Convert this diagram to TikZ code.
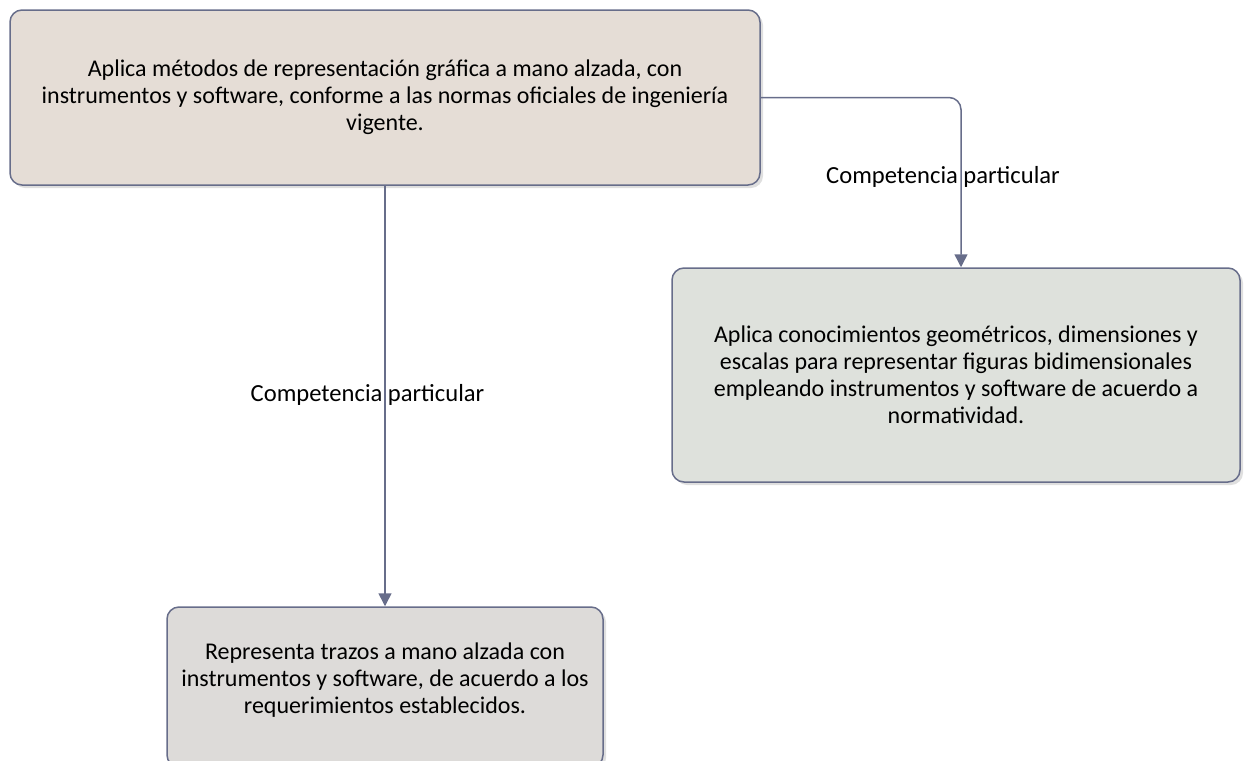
\documentclass[tikz,border=0pt]{standalone}
\usepackage{fontspec}
\setmainfont{Carlito}
\usetikzlibrary{arrows.meta,shadows}

\definecolor{lineblue}{HTML}{676D8A}
\definecolor{topfill}{HTML}{E5DDD6}
\definecolor{rightfill}{HTML}{DEE1DC}
\definecolor{lowfill}{HTML}{DDDBD9}

\tikzset{
  compbox/.style={draw=lineblue, line width=0.75pt, rounded corners=6pt,
    align=center, font=\fontsize{12}{13.5}\selectfont,
    drop shadow={opacity=0.25, shadow xshift=1.5pt, shadow yshift=-1.5pt}},
  link/.style={draw=lineblue, line width=0.75pt,
    -{Triangle[width=6.5pt,length=6.5pt]}},
  linklabel/.style={font=\fontsize{12.3}{14}\selectfont}
}

\begin{document}
\begin{tikzpicture}[x=0.5pt,y=-0.5pt]
  \useasboundingbox (0,0) rectangle (1244,761);

  % Boxes
  \node[compbox, fill=topfill, minimum width=375pt, minimum height=87.5pt]
    (general) at (385,97.5)
    {Aplica métodos de representación gráfica a mano alzada, con\\
     instrumentos y software, conforme a las normas oficiales de ingeniería\\
     vigente.};
  \node[compbox, fill=rightfill, minimum width=284pt, minimum height=107pt]
    (geometric) at (956,375)
    {Aplica conocimientos geométricos, dimensiones y\\
     escalas para representar figuras bidimensionales\\
     empleando instrumentos y software de acuerdo a\\
     normatividad.};
  \node[compbox, fill=lowfill, minimum width=218pt, minimum height=80pt]
    (freehand) at (385,687)
    {\raisebox{3pt}[\height][\depth]{\begin{tabular}{@{}c@{}}Representa trazos a mano alzada con\\
     instrumentos y software, de acuerdo a los\\
     requerimientos establecidos.\end{tabular}}};

  % Connectors
  \draw[link] (general.south) -- (freehand.north)
    node[linklabel, pos=0.497, xshift=-8.75pt] (lowlabel) {Competencia particular};
  \draw[link, rounded corners=6pt] (general.east) -| ([xshift=2.5pt]geometric.north)
    node[linklabel, pos=0.735, xshift=-9pt] (rightlabel) {Competencia particular};
\end{tikzpicture}
\end{document}
